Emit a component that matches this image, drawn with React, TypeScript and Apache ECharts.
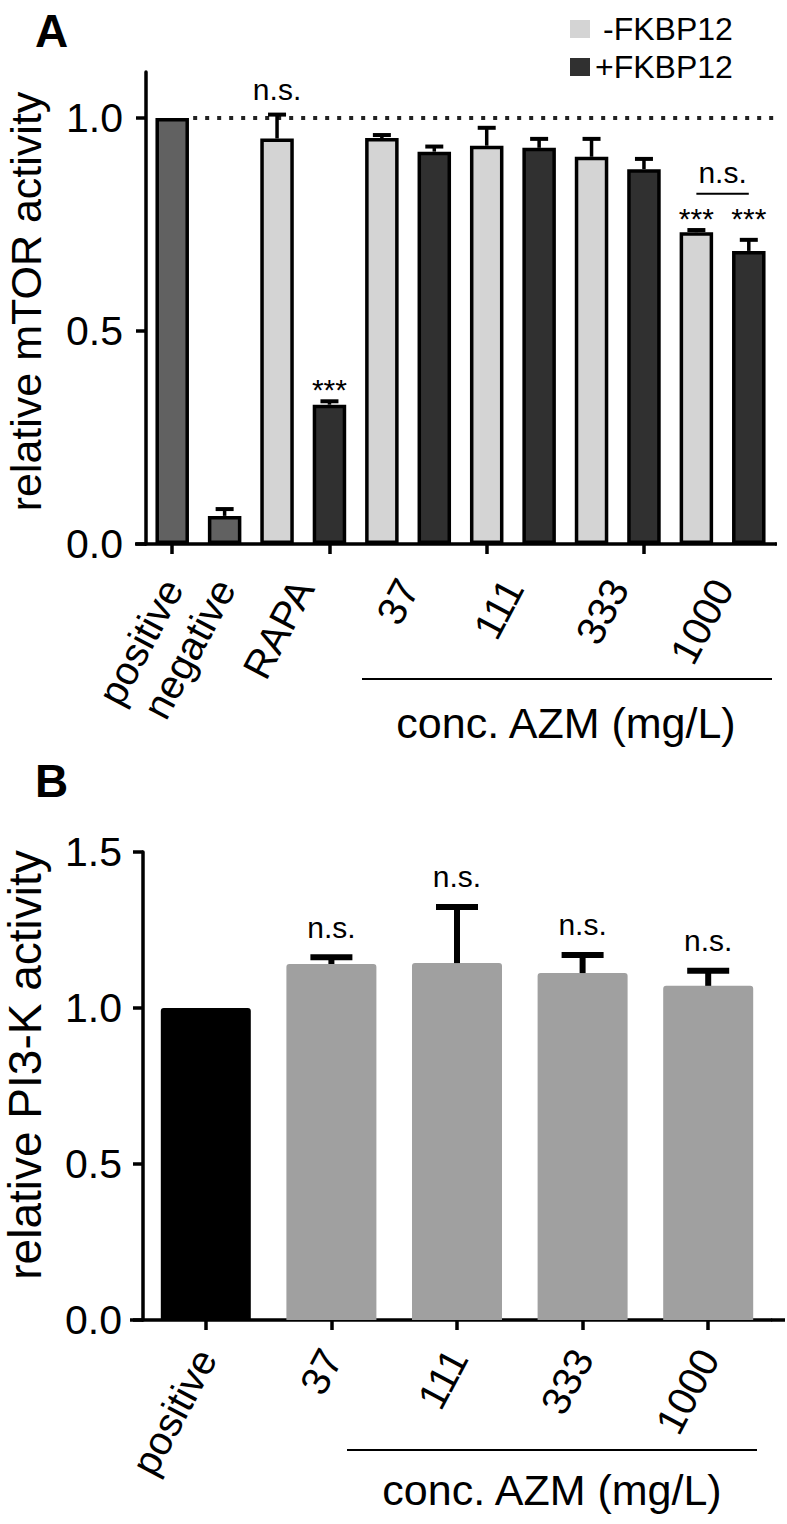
import React, { useEffect, useRef } from "react";
import * as echarts from "echarts";

const FONT = '"Liberation Sans", Arial, Helvetica, sans-serif';

// ---------------- Panel A data ----------------
const categoriesA = [
  "positive", "negative",
  "RAPA -FKBP12", "RAPA +FKBP12",
  "37 -FKBP12", "37 +FKBP12",
  "111 -FKBP12", "111 +FKBP12",
  "333 -FKBP12", "333 +FKBP12",
  "1000 -FKBP12", "1000 +FKBP12",
];
const groupsA = [
  "control", "control",
  "-FKBP12", "+FKBP12",
  "-FKBP12", "+FKBP12",
  "-FKBP12", "+FKBP12",
  "-FKBP12", "+FKBP12",
  "-FKBP12", "+FKBP12",
];
const meansA = [1.0, 0.066, 0.952, 0.327, 0.953, 0.921, 0.935, 0.93, 0.909, 0.88, 0.732, 0.688];
const errorsA = [0, 0.016, 0.056, 0.008, 0.007, 0.012, 0.042, 0.021, 0.042, 0.024, 0.005, 0.026];
const axisLabelPosA = [0, 1, 2.5, 4.5, 6.5, 8.5, 10.5];
const axisLabelTextA = ["positive", "negative", "RAPA", "37", "111", "333", "1000"];
const yTicksA = [0, 0.5, 1.0];
const yMaxA = 1.108;
const refValueA = 1.0;
const refStartA = 0.4;
const refEndA = 11.5;
const annXA = [2, 3, 10, 11, 10.5];
const annYA = [1.068, 0.362, 0.763, 0.763, 0.871];
const annTextA = ["n.s.", "***", "***", "***", "n.s."];
const bracketXA = [10, 11];
const bracketYA = 0.822;
const legendA = ["-FKBP12", "+FKBP12"];

// ---------------- Panel B data ----------------
const categoriesB = ["positive", "37", "111", "333", "1000"];
const meansB = [1.0, 1.141, 1.144, 1.112, 1.071];
const errorsB = [0, 0.022, 0.18, 0.058, 0.048];
const sigB = ["", "n.s.", "n.s.", "n.s.", "n.s."];
const yTicksB = [0, 0.5, 1.0, 1.5];
const yMaxB = 1.5;

// ---------------- styling ----------------
const groupColors: Record<string, string> = {
  control: "#616161",
  "-FKBP12": "#d4d4d4",
  "+FKBP12": "#303030",
};
const colorsB = ["#000000", "#a0a0a0", "#a0a0a0", "#a0a0a0", "#a0a0a0"];

// grid geometry (pixels)
const GA = { left: 146, top: 72, width: 629, height: 472 };
const GB = { left: 143, top: 852, width: 628, height: 468 };

const AXW = 3.5;

function makeOption() {
  const barSeriesA = ["control", "-FKBP12", "+FKBP12"].map((g) => ({
    name: g,
    type: "bar",
    xAxisIndex: 0,
    yAxisIndex: 0,
    barWidth: 33.5,
    barGap: "-100%",
    z: 2,
    itemStyle: { color: groupColors[g], borderColor: "#000", borderWidth: 3.5 },
    data: meansA.map((v, i) => (groupsA[i] === g ? v : null)),
  }));

  const errDataA: number[][] = [];
  meansA.forEach((m, i) => {
    if (errorsA[i] > 0) errDataA.push([i, m, errorsA[i]]);
  });

  const errorSeriesA = {
    type: "custom",
    xAxisIndex: 0,
    yAxisIndex: 0,
    z: 3,
    clip: false,
    encode: { x: 0, y: 1 },
    data: errDataA,
    renderItem: (params: any, api: any) => {
      const i = api.value(0);
      const m = api.value(1);
      const e = api.value(2);
      const base = api.coord([i, m]);
      const top = api.coord([i, m + e]);
      const half = 9;
      return {
        type: "group",
        children: [
          { type: "line", shape: { x1: base[0], y1: base[1], x2: top[0], y2: top[1] }, style: { stroke: "#000", lineWidth: 3.5 } },
          { type: "line", shape: { x1: top[0] - half, y1: top[1], x2: top[0] + half, y2: top[1] }, style: { stroke: "#000", lineWidth: 4 } },
        ],
      };
    },
  };

  const refLineA = {
    type: "line",
    xAxisIndex: 1,
    yAxisIndex: 0,
    symbol: "none",
    silent: true,
    z: 1,
    lineStyle: { color: "#222", width: 4, type: [4, 8] },
    data: [
      [refStartA, refValueA],
      [refEndA, refValueA],
    ],
  };

  const bracketA = {
    type: "line",
    xAxisIndex: 1,
    yAxisIndex: 0,
    symbol: "none",
    silent: true,
    lineStyle: { color: "#000", width: 2 },
    data: bracketXA.map((x) => [x, bracketYA]),
  };

  const annotA = {
    type: "custom",
    xAxisIndex: 1,
    yAxisIndex: 0,
    z: 4,
    clip: false,
    encode: { x: 0, y: 1 },
    data: annXA.map((x, i) => [x, annYA[i]]),
    renderItem: (params: any, api: any) => {
      const p = api.coord([api.value(0), api.value(1)]);
      return {
        type: "text",
        x: p[0],
        y: p[1],
        style: {
          text: annTextA[params.dataIndex],
          font: `30px ${FONT}`,
          fill: "#000",
          align: "center",
          verticalAlign: "middle",
        },
      };
    },
  };

  const barB = {
    type: "bar",
    xAxisIndex: 2,
    yAxisIndex: 1,
    barWidth: 90,
    z: 2,
    data: meansB.map((v, i) => ({
      value: v,
      itemStyle: { color: colorsB[i], borderRadius: [3, 3, 0, 0] },
    })),
  };

  const errDataB: number[][] = [];
  meansB.forEach((m, i) => {
    if (errorsB[i] > 0 || sigB[i]) errDataB.push([i, m, errorsB[i], i]);
  });

  const errorSeriesB = {
    type: "custom",
    xAxisIndex: 2,
    yAxisIndex: 1,
    z: 3,
    clip: false,
    encode: { x: 0, y: 1 },
    data: errDataB,
    renderItem: (params: any, api: any) => {
      const i = api.value(0);
      const m = api.value(1);
      const e = api.value(2);
      const k = api.value(3);
      const base = api.coord([i, m]);
      const top = api.coord([i, m + e]);
      const children: any[] = [];
      if (e > 0) {
        children.push(
          { type: "line", shape: { x1: base[0], y1: base[1], x2: top[0], y2: top[1] }, style: { stroke: "#000", lineWidth: 6 } },
          { type: "line", shape: { x1: top[0] - 21, y1: top[1], x2: top[0] + 21, y2: top[1] }, style: { stroke: "#000", lineWidth: 6 } }
        );
      }
      const t = sigB[k];
      if (t) {
        children.push({
          type: "text",
          x: top[0],
          y: top[1] - 30,
          style: { text: t, font: `30px ${FONT}`, fill: "#000", align: "center", verticalAlign: "middle" },
        });
      }
      return { type: "group", children };
    },
  };

  const yAxisCommon = (ticks: number[], max: number, name: string, gap: number, pad: number, margin: number, nameSize: number) => ({
    type: "value",
    min: 0,
    max,
    axisLine: { show: true, onZero: false, lineStyle: { color: "#000", width: AXW } },
    axisTick: { show: true, length: 10, customValues: ticks, lineStyle: { color: "#000", width: AXW } },
    axisLabel: {
      customValues: ticks,
      formatter: (v: number) => v.toFixed(1),
      fontSize: 41,
      fontFamily: FONT,
      color: "#000",
      margin,
    },
    splitLine: { show: false },
    name,
    nameLocation: "middle",
    nameRotate: 90,
    nameGap: gap,
    nameTextStyle: { fontSize: nameSize, fontFamily: FONT, color: "#000", padding: [0, 0, 0, pad] },
  });

  const axisYA = GA.top + GA.height;
  const axisYB = GB.top + GB.height;

  return {
    animation: false,
    backgroundColor: "#fff",
    textStyle: { fontFamily: FONT },
    legend: {
      data: [{ name: legendA[0], textStyle: { padding: [0, 0, 0, 8] } }, legendA[1]],
      orient: "vertical",
      left: 565,
      top: 8,
      icon: "rect",
      itemWidth: 20,
      itemHeight: 18,
      itemGap: 6,
      itemStyle: { borderWidth: 0 },
      textStyle: { fontSize: 32, fontFamily: FONT, color: "#000", lineHeight: 32 },
      selectedMode: false,
    },
    grid: [
      { ...GA, outerBoundsMode: "none", containLabel: false },
      { ...GB, outerBoundsMode: "none", containLabel: false },
    ],
    xAxis: [
      {
        gridIndex: 0,
        type: "category",
        data: categoriesA,
        position: "bottom",
        axisLine: { show: true, onZero: false, lineStyle: { color: "#000", width: AXW } },
        axisTick: { show: true, alignWithLabel: true, length: 10, lineStyle: { color: "#000", width: AXW } },
        axisLabel: { show: false },
        splitLine: { show: false },
      },
      {
        gridIndex: 0,
        type: "value",
        min: -0.5,
        max: 11.5,
        position: "bottom",
        axisLine: { show: false, onZero: false },
        axisTick: { show: false },
        splitLine: { show: false },
        axisLabel: {
          customValues: axisLabelPosA,
          formatter: (v: number) => {
            const k = axisLabelPosA.findIndex((p) => Math.abs(p - v) < 1e-6);
            return k >= 0 ? axisLabelTextA[k] : "";
          },
          rotate: 62,
          margin: 38,
          fontSize: 40,
          fontFamily: FONT,
          color: "#000",
        },
      },
      {
        gridIndex: 1,
        type: "category",
        data: categoriesB,
        position: "bottom",
        axisLine: { show: true, onZero: false, lineStyle: { color: "#000", width: AXW } },
        axisTick: { show: true, alignWithLabel: true, length: 10, lineStyle: { color: "#000", width: AXW } },
        axisLabel: { interval: 0, rotate: 62, margin: 32, fontSize: 40, fontFamily: FONT, color: "#000" },
        splitLine: { show: false },
      },
    ],
    yAxis: [
      { gridIndex: 0, ...yAxisCommon(yTicksA, yMaxA, "relative mTOR activity", 99, 13, 23, 43) },
      { gridIndex: 1, ...yAxisCommon(yTicksB, yMaxB, "relative PI3-K activity", 95, 42, 21, 46) },
    ],
    series: [refLineA, ...barSeriesA, errorSeriesA, bracketA, annotA, barB, errorSeriesB],
    graphic: [
      { type: "text", x: 35, y: 31, style: { text: "A", font: `bold 46px ${FONT}`, fill: "#000", verticalAlign: "middle" } },
      { type: "text", x: 35, y: 781, style: { text: "B", font: `bold 46px ${FONT}`, fill: "#000", verticalAlign: "middle" } },
      // x-axis line extensions
      { type: "line", shape: { x1: GA.left - 11, y1: axisYA, x2: GA.left, y2: axisYA }, style: { stroke: "#000", lineWidth: AXW } },
      { type: "line", shape: { x1: GA.left + GA.width, y1: axisYA, x2: GA.left + GA.width + 2, y2: axisYA }, style: { stroke: "#000", lineWidth: AXW } },
      { type: "line", shape: { x1: GB.left - 13, y1: axisYB, x2: GB.left, y2: axisYB }, style: { stroke: "#000", lineWidth: AXW } },
      { type: "line", shape: { x1: GB.left + GB.width, y1: axisYB, x2: GB.left + GB.width + 14, y2: axisYB }, style: { stroke: "#000", lineWidth: AXW } },
      // concentration group lines and titles
      { type: "line", shape: { x1: 362, y1: 679, x2: 772, y2: 679 }, style: { stroke: "#000", lineWidth: 2 } },
      { type: "text", x: 566, y: 723, style: { text: "conc. AZM (mg/L)", font: `43px ${FONT}`, fill: "#000", align: "center", verticalAlign: "middle" } },
      { type: "line", shape: { x1: 347, y1: 1450, x2: 757, y2: 1450 }, style: { stroke: "#000", lineWidth: 2 } },
      { type: "text", x: 552, y: 1490, style: { text: "conc. AZM (mg/L)", font: `43px ${FONT}`, fill: "#000", align: "center", verticalAlign: "middle" } },
    ],
  };
}

export default function App() {
  const ref = useRef<HTMLDivElement>(null);
  useEffect(() => {
    if (!ref.current) return;
    const chart = echarts.init(ref.current, null, { renderer: "svg" });
    chart.setOption(makeOption() as any);
    return () => chart.dispose();
  }, []);
  return (
    <div
      ref={ref}
      style={{ position: "absolute", left: 0, top: 0, width: 787, height: 1524, background: "#fff" }}
    />
  );
}
